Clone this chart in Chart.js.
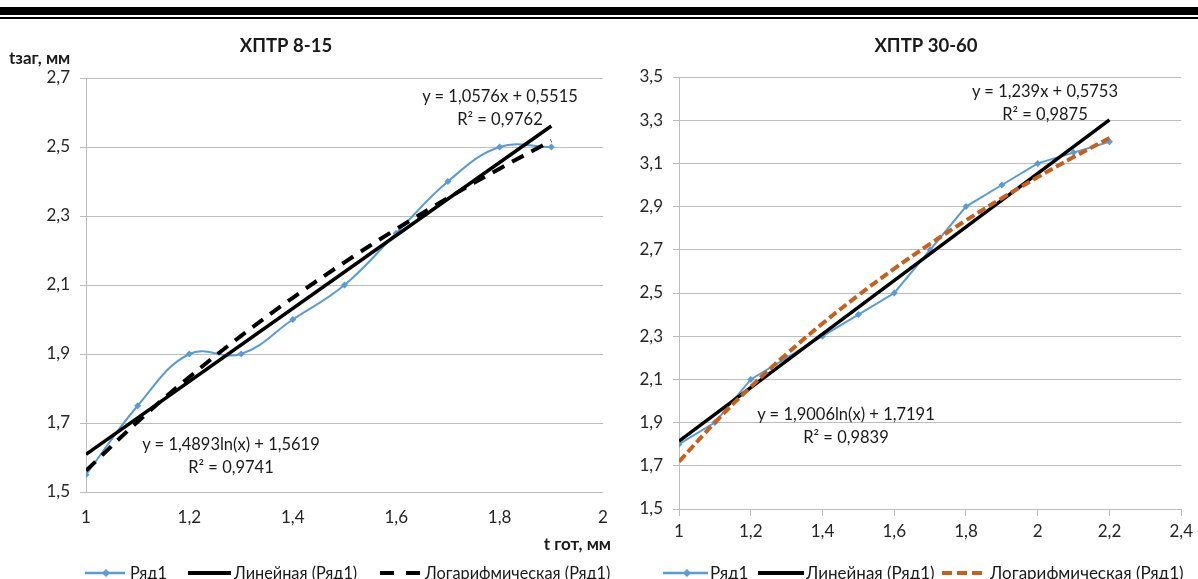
<!DOCTYPE html>
<html><head><meta charset="utf-8">
<script src="https://cdn.jsdelivr.net/npm/chart.js@4.4.1/dist/chart.umd.min.js"></script>
<style>
body{margin:0;width:1198px;height:579px;background:#fff;position:relative;overflow:hidden;font-family:Lato,"Open Sans",sans-serif;color:#1a1a1a}
.bar1{position:absolute;left:0;top:7px;width:1198px;height:8px;background:#000}
.bar2{position:absolute;left:0;top:17px;width:1198px;height:2px;background:#000}
canvas{position:absolute;top:0}
.t{position:absolute;white-space:nowrap;line-height:1}
.title{font-weight:bold;font-size:18.5px;transform:translateX(-50%)}
.eq{font-size:16.5px;text-align:center;transform:translateX(-50%)}
.ax{font-weight:bold;font-size:17px}
.li{position:absolute;top:564px;font-size:17px;white-space:nowrap;line-height:18px}
.li.s{font-size:16.3px}
.ls{position:absolute;top:568px}
</style></head>
<body>
<div class="bar1"></div><div class="bar2"></div>
<canvas id="c1" width="620" height="579" style="left:0;width:620px;height:579px"></canvas>
<canvas id="c2" width="578" height="579" style="left:620px;width:578px;height:579px"></canvas>

<div class="t title" style="left:286px;top:36px">ХПТР 8-15</div>
<div class="t title" style="left:926px;top:36px">ХПТР 30-60</div>
<div class="t ax" style="left:9px;top:49px">tзаг, мм</div>
<div class="t ax" style="right:587px;top:535px">t гот, мм</div>

<div class="t eq" style="left:500px;top:88px">y = 1,0576x + 0,5515<br><span style="display:inline-block;margin-top:6px">R² = 0,9762</span></div>
<div class="t eq" style="left:231px;top:436px">y = 1,4893ln(x) + 1,5619<br><span style="display:inline-block;margin-top:6px">R² = 0,9741</span></div>
<div class="t eq" style="left:1045px;top:83px">y = 1,239x + 0,5753<br><span style="display:inline-block;margin-top:6px">R² = 0,9875</span></div>
<div class="t eq" style="left:846px;top:406px">y = 1,9006ln(x) + 1,7191<br><span style="display:inline-block;margin-top:6px">R² = 0,9839</span></div>

<!-- legend chart 1 -->
<svg class="ls" style="left:85px" width="40" height="10"><line x1="0" y1="5" x2="40" y2="5" stroke="#5B9BD5" stroke-width="2.5"/><path d="M21 1 L25 5 L21 9 L17 5Z" fill="#5B9BD5"/></svg>
<div class="li s" style="left:130px">Ряд1</div>
<svg class="ls" style="left:188px" width="43" height="10"><line x1="0" y1="5" x2="43" y2="5" stroke="#000" stroke-width="4"/></svg>
<div class="li s" style="left:234px">Линейная (Ряд1)</div>
<svg class="ls" style="left:380px" width="43" height="10"><line x1="0" y1="5" x2="43" y2="5" stroke="#000" stroke-width="4" stroke-dasharray="14,12"/></svg>
<div class="li s" style="left:425px">Логарифмическая (Ряд1)</div>
<!-- legend chart 2 -->
<svg class="ls" style="left:663px" width="45" height="10"><line x1="0" y1="5" x2="45" y2="5" stroke="#5B9BD5" stroke-width="2.5"/><path d="M24 1 L28 5 L24 9 L20 5Z" fill="#5B9BD5"/></svg>
<div class="li" style="left:710px">Ряд1</div>
<svg class="ls" style="left:758px" width="46" height="10"><line x1="0" y1="5" x2="46" y2="5" stroke="#000" stroke-width="4"/></svg>
<div class="li" style="left:806px">Линейная (Ряд1)</div>
<svg class="ls" style="left:942px" width="45" height="10"><line x1="0" y1="5" x2="45" y2="5" stroke="#C8601C" stroke-width="4" stroke-dasharray="10,5"/></svg>
<div class="li" style="left:990px">Логарифмическая (Ряд1)</div>

<script>
// ---- Chart 1: ХПТР 8-15 ----
const x1 = [1, 1.1, 1.2, 1.3, 1.4, 1.5, 1.6, 1.7, 1.8, 1.9];
const y1 = [1.55, 1.75, 1.9, 1.9, 2.0, 2.1, 2.25, 2.4, 2.5, 2.5];
const lin1 = [1.0576, 0.5515];   // y = a*x + b
const log1 = [1.4893, 1.5619];   // y = a*ln(x) + b
const xTicks1 = [1, 1.2, 1.4, 1.6, 1.8, 2];
const yTicks1 = [1.5, 1.7, 1.9, 2.1, 2.3, 2.5, 2.7];

// ---- Chart 2: ХПТР 30-60 ----
const x2 = [1, 1.1, 1.2, 1.3, 1.4, 1.5, 1.6, 1.7, 1.8, 1.9, 2.0, 2.1, 2.2];
const y2 = [1.8, 1.9, 2.1, 2.2, 2.3, 2.4, 2.5, 2.7, 2.9, 3.0, 3.1, 3.15, 3.2];
const lin2 = [1.239, 0.5753];
const log2 = [1.9006, 1.7191];
const xTicks2 = [1, 1.2, 1.4, 1.6, 1.8, 2, 2.2, 2.4];
const yTicks2 = [1.5, 1.7, 1.9, 2.1, 2.3, 2.5, 2.7, 2.9, 3.1, 3.3, 3.5];

const fmt = v => String(Math.round(v * 10) / 10).replace('.', ',');
const FONT = {family: 'Lato, "Open Sans", sans-serif', size: 17};
const GRID = '#BDBDBD';

function build(id, xs, ys, lin, lg, xT, yT, o) {
  const pts = xs.map((x, i) => ({x, y: ys[i]}));
  const linPts = [xs[0], xs[xs.length - 1]].map(x => ({x, y: lin[0] * x + lin[1]}));
  const logPts = xs.map(x => ({x, y: lg[0] * Math.log(x) + lg[1]}));
  new Chart(document.getElementById(id), {
    type: 'scatter',
    data: {datasets: [
      {data: logPts, showLine: true, borderColor: o.logColor, borderWidth: 4, borderDash: o.dash,
       pointRadius: 0, tension: 0.4, order: 1},
      {data: linPts, showLine: true, borderColor: '#000', borderWidth: 3.5, pointRadius: 0, order: 2},
      {data: pts, showLine: true, borderColor: '#5B9BD5', backgroundColor: '#5B9BD5', borderWidth: 2,
       pointStyle: 'rectRot', pointRadius: 3.5, pointBorderWidth: 0, tension: o.tension,
       cubicInterpolationMode: 'default', order: 3}
    ]},
    options: {
      responsive: false, animation: false, devicePixelRatio: 1,
      layout: {padding: o.pad},
      plugins: {legend: {display: false}, tooltip: {enabled: false}},
      scales: {
        x: {type: 'linear', min: xT[0], max: xT[xT.length - 1],
            afterBuildTicks: s => { s.ticks = xT.map(v => ({value: v})); },
            afterFit: s => { s.height = 50; },
            ticks: {callback: fmt, font: FONT, color: '#262626', padding: o.xPad, maxRotation: 0, autoSkip: false},
            grid: {display: o.xTicksShown, drawOnChartArea: false, drawTicks: true, tickLength: 7, color: GRID},
            border: {display: false}},
        y: {min: yT[0], max: yT[yT.length - 1],
            afterBuildTicks: s => { s.ticks = yT.map(v => ({value: v})); },
            afterFit: s => { s.width = o.yW; },
            ticks: {callback: fmt, font: FONT, color: '#262626', padding: 10, autoSkip: false},
            grid: {color: GRID, lineWidth: 1, drawTicks: true, tickLength: 6},
            border: {display: true, color: GRID}}
      }
    }
  });
}

build('c1', x1, y1, lin1, log1, xTicks1, yTicks1,
  {pad: {left: 0, top: 78, right: 17, bottom: 37}, yW: 86, xPad: 8, xTicksShown: false,
   logColor: '#000', dash: [13, 9], tension: 0.4});
build('c2', x2, y2, lin2, log2, xTicks2, yTicks2,
  {pad: {left: 0, top: 77, right: 16, bottom: 20}, yW: 59, xPad: 5, xTicksShown: true,
   logColor: '#C8601C', dash: [9, 4], tension: 0});
</script>
</body></html>
